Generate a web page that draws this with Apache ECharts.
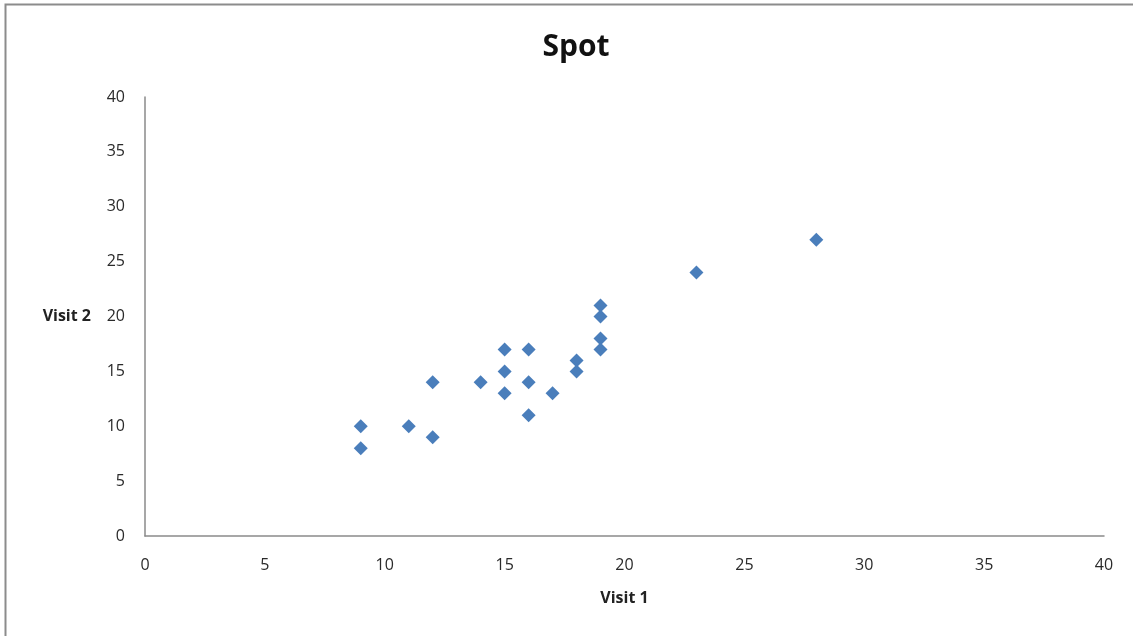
<!DOCTYPE html>
<html>
<head>
<meta charset="utf-8">
<title>Spot</title>
<script src="https://cdn.jsdelivr.net/npm/echarts@6/dist/echarts.min.js"></script>
<style>
  html, body { margin: 0; padding: 0; background: #fff; }
  #chart { width: 1133px; height: 636px; }
</style>
</head>
<body>
<div id="chart"></div>
<script>
// Paired scores: first visit vs second visit
const visit1 = [9, 9, 11, 12, 12, 14, 15, 15, 15, 16, 16, 16, 17, 18, 18, 19, 19, 19, 19, 23, 28];
const visit2 = [10, 8, 10, 14, 9, 14, 17, 15, 13, 17, 14, 11, 13, 16, 15, 21, 20, 18, 17, 24, 27];
const xTicks = [0, 5, 10, 15, 20, 25, 30, 35, 40];
const yTicks = [0, 5, 10, 15, 20, 25, 30, 35, 40];

const points = visit1.map((v, i) => [v, visit2[i]]);
const font = 'Open Sans, Lato, sans-serif';

const chart = echarts.init(document.getElementById('chart'), null, { renderer: 'canvas' });
chart.setOption({
  animation: false,
  backgroundColor: '#fff',
  title: {
    text: 'Spot',
    left: 571,
    top: 27,
    textAlign: 'center',
    textStyle: { fontFamily: font, fontSize: 30, fontWeight: 'bold', color: '#111' }
  },
  grid: { left: 145, right: 29, top: 97, bottom: 100, containLabel: false },
  xAxis: {
    type: 'value',
    min: xTicks[0],
    max: xTicks[xTicks.length - 1],
    interval: xTicks[1] - xTicks[0],
    name: 'Visit 1',
    nameLocation: 'middle',
    nameGap: 54,
    nameTextStyle: { fontFamily: font, fontSize: 16, fontWeight: 'bold', color: '#222', verticalAlign: 'top' },
    axisLine: { show: true, lineStyle: { color: '#8a8a8a', width: 1.5 } },
    axisTick: { show: false },
    splitLine: { show: false },
    axisLabel: { margin: 21, fontFamily: font, fontSize: 16, color: '#2a2a2a' }
  },
  yAxis: {
    type: 'value',
    min: yTicks[0],
    max: yTicks[yTicks.length - 1],
    interval: yTicks[1] - yTicks[0],
    name: 'Visit 2',
    nameLocation: 'middle',
    nameRotate: 0,
    nameGap: 54,
    nameTextStyle: { fontFamily: font, fontSize: 16, fontWeight: 'bold', color: '#222', align: 'right', verticalAlign: 'middle' },
    axisLine: { show: true, lineStyle: { color: '#8a8a8a', width: 1.5 } },
    axisTick: { show: false },
    splitLine: { show: false },
    axisLabel: { margin: 20, fontFamily: font, fontSize: 16, color: '#2a2a2a' }
  },
  graphic: [{
    type: 'rect',
    shape: { x: 5.5, y: 4.5, width: 1140, height: 650 },
    style: { fill: 'none', stroke: '#8c8c8c', lineWidth: 2 },
    silent: true
  }],
  series: [{
    type: 'scatter',
    data: points,
    symbol: 'diamond',
    symbolSize: 14,
    itemStyle: { color: '#4A7EBB', opacity: 1 }
  }]
});
</script>
</body>
</html>
